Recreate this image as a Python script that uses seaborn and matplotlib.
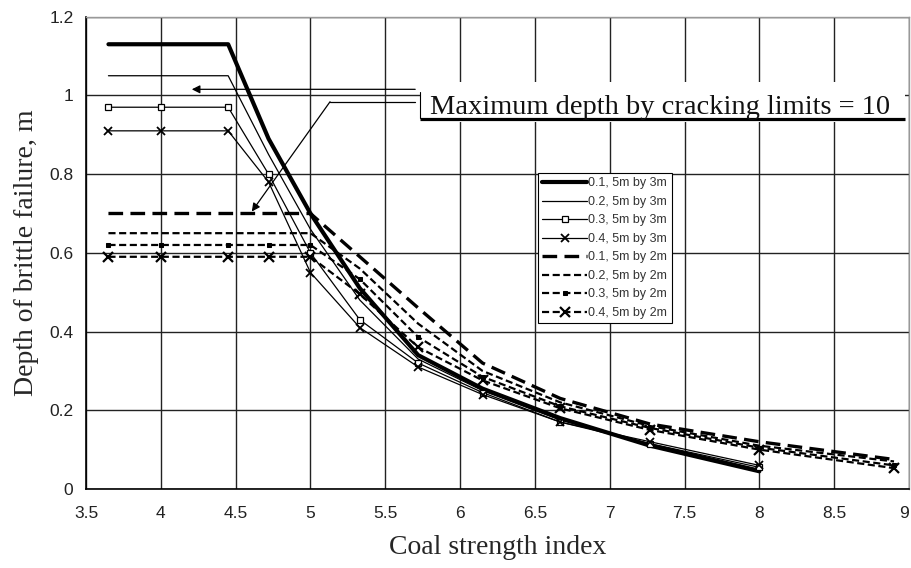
import matplotlib
matplotlib.use("Agg")
import matplotlib.pyplot as plt
from matplotlib.patches import Rectangle
import seaborn as sns
import pandas as pd

# ---- data ----
x_3m = [3.65, 4.0, 4.45, 4.72, 5.0, 5.33, 5.72, 6.15, 6.67, 7.27, 8.0]
x_2m = [3.65, 4.0, 4.45, 4.72, 5.0, 5.33, 5.72, 6.15, 6.67, 7.27, 8.0, 8.9]

y_01_3m = [1.13, 1.13, 1.13, 0.89, 0.70, 0.51, 0.34, 0.255, 0.18, 0.11, 0.045]
y_02_3m = [1.05, 1.05, 1.05, 0.85, 0.66, 0.48, 0.33, 0.25, 0.175, 0.115, 0.05]
y_03_3m = [0.97, 0.97, 0.97, 0.80, 0.60, 0.43, 0.32, 0.245, 0.17, 0.115, 0.055]
y_04_3m = [0.91, 0.91, 0.91, 0.78, 0.55, 0.41, 0.31, 0.24, 0.17, 0.12, 0.06]

y_01_2m = [0.70, 0.70, 0.70, 0.70, 0.70, 0.59, 0.46, 0.32, 0.23, 0.165, 0.12, 0.075]
y_02_2m = [0.65, 0.65, 0.65, 0.65, 0.65, 0.56, 0.42, 0.30, 0.22, 0.16, 0.11, 0.07]
y_03_2m = [0.62, 0.62, 0.62, 0.62, 0.62, 0.533, 0.386, 0.285, 0.21, 0.155, 0.105, 0.06]
y_04_2m = [0.59, 0.59, 0.59, 0.59, 0.59, 0.495, 0.36, 0.276, 0.205, 0.15, 0.10, 0.053]

labels = ["0.1, 5m by 3m", "0.2, 5m by 3m", "0.3, 5m by 3m", "0.4, 5m by 3m",
          "0.1, 5m by 2m", "0.2, 5m by 2m", "0.3, 5m by 2m", "0.4, 5m by 2m"]

x_ticks = [3.5, 4, 4.5, 5, 5.5, 6, 6.5, 7, 7.5, 8, 8.5, 9]
x_ticklabels = ["3.5", "4", "4.5", "5", "5.5", "6", "6.5", "7", "7.5", "8", "8.5", "9"]
y_ticks = [0, 0.2, 0.4, 0.6, 0.8, 1.0, 1.2]
y_ticklabels = ["0", "0.2", "0.4", "0.6", "0.8", "1", "1.2"]

annotation_text = "Maximum depth by cracking limits = 10"

# ---- style ----
sns.set_style("white")
plt.rcParams["font.family"] = ["Liberation Sans", "DejaVu Sans"]

fig = plt.figure(figsize=(9.11, 5.68), dpi=100)
ax = fig.add_axes([86 / 911, 1 - 489 / 568, (909 - 86) / 911, (489 - 16.7) / 568])

series = [
    (x_3m, y_01_3m, dict(lw=3.0, linestyle="-")),
    (x_3m, y_02_3m, dict(lw=0.9, linestyle="-")),
    (x_3m, y_03_3m, dict(lw=0.9, linestyle="-", marker="s", markersize=5,
                         markerfacecolor="white", markeredgecolor="black", markeredgewidth=0.9)),
    (x_3m, y_04_3m, dict(lw=0.9, linestyle="-", marker="x", markersize=6,
                         markeredgecolor="black", markeredgewidth=1.3)),
    (x_2m, y_01_2m, dict(lw=2.4, linestyle=(0, (4.4, 2.2)))),
    (x_2m, y_02_2m, dict(lw=1.6, linestyle=(0, (3.2, 1.6)))),
    (x_2m, y_03_2m, dict(lw=1.6, linestyle=(0, (3.2, 1.6)), marker="s", markersize=3,
                         markerfacecolor="black", markeredgecolor="black")),
    (x_2m, y_04_2m, dict(lw=1.6, linestyle=(0, (3.2, 1.6)), marker="x", markersize=7,
                         markeredgecolor="black", markeredgewidth=1.6)),
]

for (xs, ys, kw), lab in zip(series, labels):
    df = pd.DataFrame({"x": xs, "y": ys})
    sns.lineplot(data=df, x="x", y="y", ax=ax, color="black", label=lab,
                 sort=False, estimator=None, legend=False, zorder=2, **kw)

ax.set_xlim(3.5, 9)
ax.set_ylim(0, 1.2)
ax.set_xticks(x_ticks)
ax.set_xticklabels(x_ticklabels)
ax.set_yticks(y_ticks)
ax.set_yticklabels(y_ticklabels)
ax.tick_params(axis="both", direction="out", length=4, width=1, color="black",
               labelsize=12.5, labelcolor="#222222", pad=5)
ax.tick_params(axis="x", pad=8)
ax.get_xticklabels()[-1].set_horizontalalignment("right")

ax.grid(True, color="#222222", lw=1.0)
ax.set_axisbelow(True)
for s in ["left", "bottom"]:
    ax.spines[s].set_color("black")
    ax.spines[s].set_linewidth(1.2)
for s in ["top", "right"]:
    ax.spines[s].set_color("#999999")
    ax.spines[s].set_linewidth(1.0)

ax.set_xlabel("Coal strength index", family="Liberation Serif", fontsize=20, labelpad=10)
ax.set_ylabel("Depth of brittle failure, m", family="Liberation Serif", fontsize=20)
ax.yaxis.set_label_coords(-0.057, 0.5)

# annotation box
ax.add_patch(Rectangle((5.733, 0.932), 8.975 - 5.733, 1.034 - 0.932,
                       facecolor="white", edgecolor="none", zorder=3))
ax.plot([5.733, 5.733], [0.942, 1.009], color="black", lw=0.8, zorder=4)
ax.plot([5.733, 8.975], [0.940, 0.940], color="black", lw=2.3, zorder=4,
        solid_capstyle="butt")
ax.text(5.80, 0.953, annotation_text, family="Liberation Serif", fontsize=20.5,
        va="baseline", ha="left", zorder=5, color="#111111")

# arrows
ax.annotate("", xy=(4.207, 1.0155), xytext=(5.70, 1.0155),
            arrowprops=dict(arrowstyle="-|>", color="black", lw=0.9,
                            mutation_scale=12, shrinkA=0, shrinkB=0), zorder=4)
ax.plot([5.70, 5.131], [0.984, 0.984], color="black", lw=0.9, zorder=4)
ax.annotate("", xy=(4.608, 0.705), xytext=(5.131, 0.984),
            arrowprops=dict(arrowstyle="-|>", color="black", lw=0.9,
                            mutation_scale=12, shrinkA=0, shrinkB=0), zorder=4)

# legend
handles, labs = ax.get_legend_handles_labels()
leg = ax.legend(handles, labs, loc="upper left", bbox_to_anchor=(0.549, 0.669),
                borderaxespad=0, fontsize=9, handlelength=3.6, handletextpad=0.1,
                labelspacing=0.52, frameon=True, fancybox=False, framealpha=1,
                borderpad=0.35)
leg.get_frame().set_edgecolor("black")
leg.get_frame().set_linewidth(0.8)
for t in leg.get_texts():
    t.set_color("#333333")

fig.savefig("out.png", dpi=100)
